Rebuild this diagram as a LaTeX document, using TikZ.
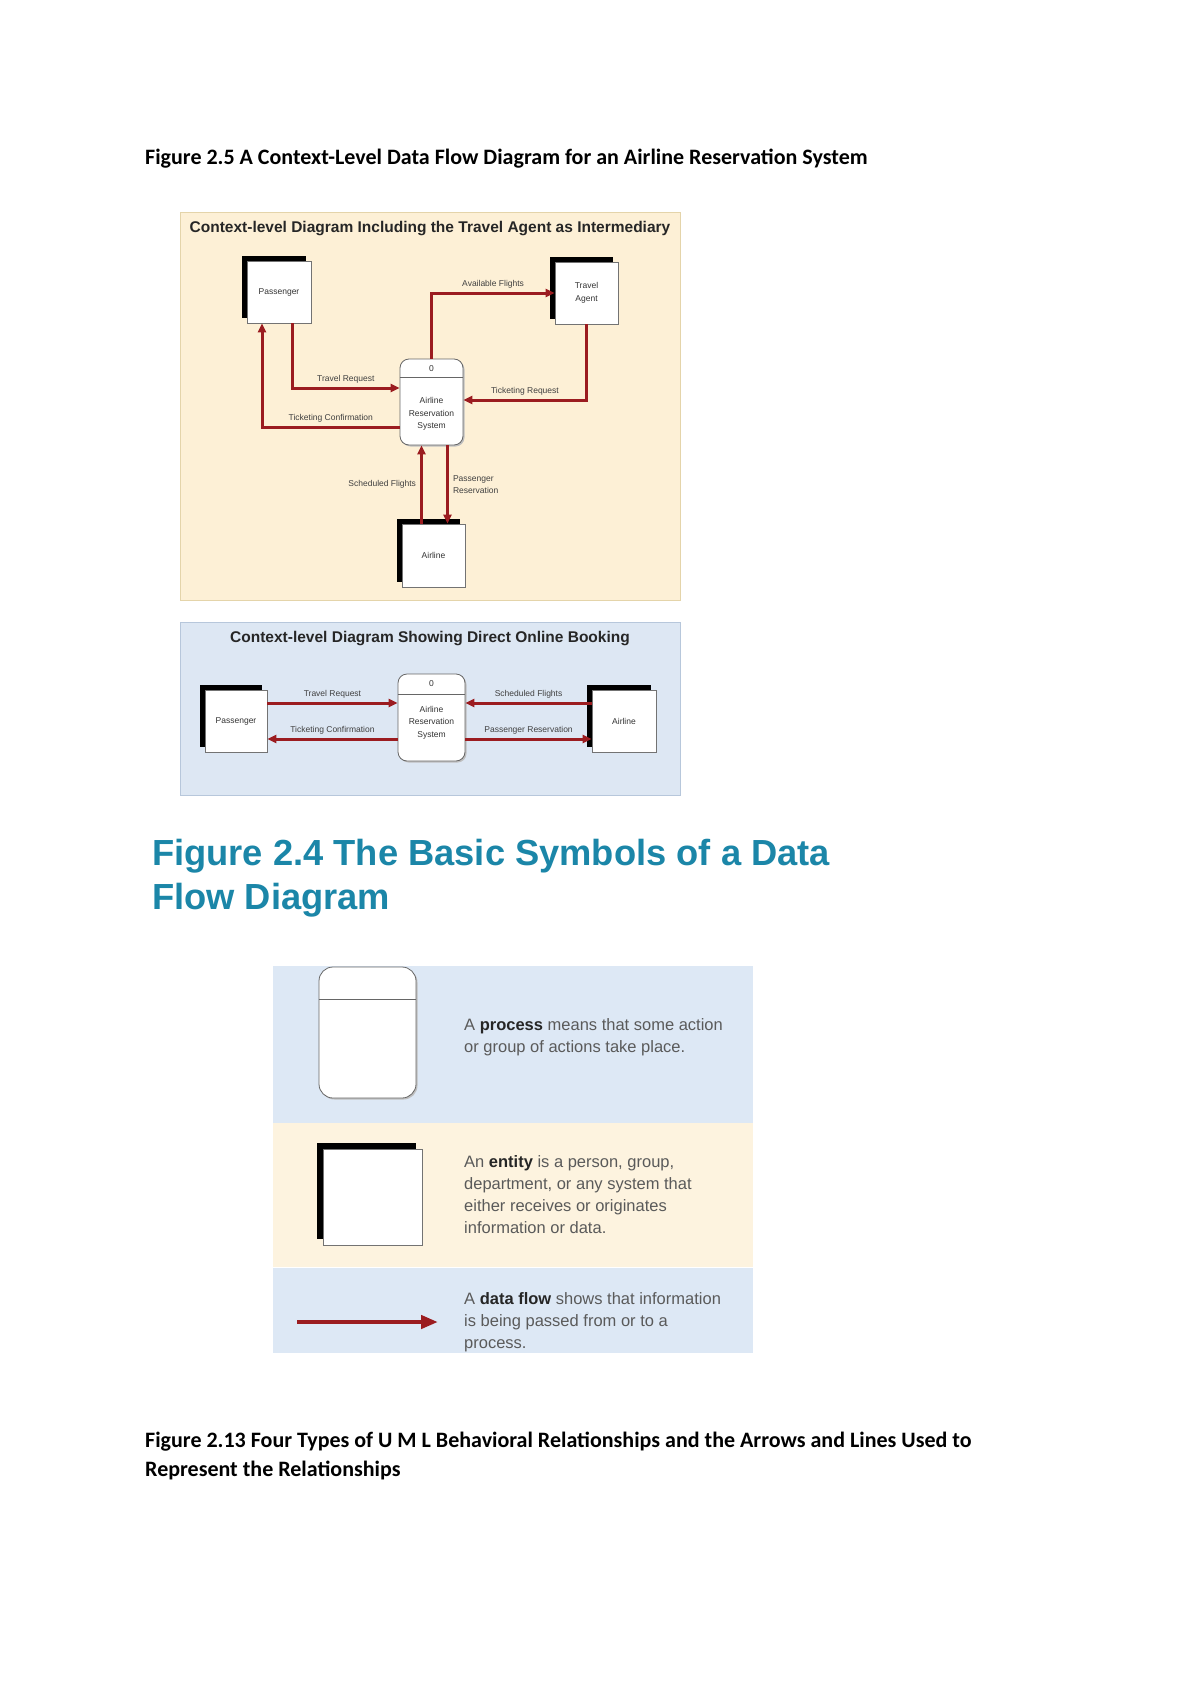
\documentclass[tikz,border=0pt]{standalone}
\usepackage{fontspec}
\setmainfont{Liberation Sans}
\newfontfamily\headfont{Carlito}
\usepackage{xcolor}
\usetikzlibrary{positioning, arrows.meta, shadows, calc}

\definecolor{flowred}{HTML}{9B1C20}
\definecolor{paneyellow}{HTML}{FDF0D6}
\definecolor{paneyellowrim}{HTML}{E4D4AA}
\definecolor{paneblue}{HTML}{DDE7F3}
\definecolor{panebluerim}{HTML}{B7C7DB}
\definecolor{bandblue}{HTML}{DDE8F5}
\definecolor{bandcream}{HTML}{FDF3DF}
\definecolor{headteal}{HTML}{1B86A8}
\definecolor{legendgray}{HTML}{5A5A5A}

\newcommand{\legkey}[1]{\textcolor{black!85}{\bfseries #1}}

\begin{document}
\begin{tikzpicture}[
    x=1pt, y=-1pt,
    every node/.style={font=\fontsize{8.5}{12.5}\selectfont, text=black!80},
    pane/.style={draw=#1rim, fill=#1, line width=1pt, minimum width=500pt, inner sep=0pt},
    panetitle/.style={font=\fontsize{15.5}{18}\selectfont\bfseries, text=black!85},
    entity/.style={draw=black!55, fill=white, align=center, inner sep=1pt, line width=0.6pt,
      general shadow={fill=black, shadow xshift=-#1, shadow yshift=#1}},
    entity/.default=5pt,
    process/.style={draw=black!60, fill=white, rounded corners=#1, align=center, line width=0.8pt,
      general shadow={fill=black!25, shadow xshift=1.5pt, shadow yshift=-1.5pt}},
    process/.default=9pt,
    divider/.style={draw=black!60, line width=0.8pt},
    flow/.style={-{Triangle[length=9pt, width=8pt]}, flowred, line width=3pt},
    bigflow/.style={-{Triangle[length=17pt, width=13pt]}, flowred, line width=4.5pt},
    lbl/.style={inner sep=1pt, text=black!75},
    heading/.style={font=\headfont\fontsize{22}{29}\selectfont\bfseries, text=black, align=left, anchor=west, inner sep=0pt},
    band/.style={fill=#1, minimum width=480pt, inner sep=0pt},
    legendtxt/.style={font=\fontsize{16.5}{21.8}\selectfont, text=legendgray, align=left, anchor=west, inner sep=0pt},
  ]

  \fill[white] (0,0) rectangle (1200,1696);

  % ---- Figure 2.5 ----
  \node[heading] (fig25) at (145,159) {Figure 2.5 A Context-Level Data Flow Diagram for an Airline Reservation System};

  % ---- Pane 1: travel agent as intermediary ----
  \node[pane=paneyellow, minimum height=387pt] (pane1) at (430,406.5) {};
  \node[panetitle] (pane1title) at ([yshift=-16pt]pane1.north) {Context-level Diagram Including the Travel Agent as Intermediary};

  \node[entity, minimum width=64pt, minimum height=62pt] (pass1) at (279,292) {Passenger};
  \node[entity, minimum width=63pt, minimum height=62pt] (agent1) at (586.5,293) {Travel\\Agent};
  \node[process, minimum width=63pt, minimum height=86pt, text height=55pt] (proc1) at (431.5,402) {Airline\\Reservation\\System};
  \node[anchor=north] (proc1num) at ([yshift=-3pt]proc1.north) {0};
  \draw[divider] ([yshift=-19pt]proc1.north west) -- ([yshift=-19pt]proc1.north east);
  \node[entity, minimum width=63pt, minimum height=63pt] (air1) at (433.5,555.5) {Airline};

  \draw[flow] ([xshift=13pt]pass1.south) |- ([yshift=14pt]proc1.west)
    node[lbl, pos=0.75, above=2pt] {Travel Request};
  \draw[flow] ([yshift=-25pt]proc1.west) -| ([xshift=-17pt]pass1.south)
    node[lbl, pos=0.25, above=2pt] {Ticketing Confirmation};
  \draw[flow] (proc1.north) |- (agent1.west)
    node[lbl, pos=0.75, above=2pt] {Available Flights};
  \draw[flow] (agent1.south) |- ([yshift=2pt]proc1.east)
    node[lbl, pos=0.75, above=2pt] {Ticketing Request};

  \coordinate (sched1) at ([xshift=-10pt]proc1.south);
  \coordinate (resv1) at ([xshift=16pt]proc1.south);
  \draw[flow] (sched1 |- air1.north) -- (sched1)
    node[lbl, midway, left=3pt] {Scheduled Flights};
  \draw[flow] (resv1) -- (resv1 |- air1.north)
    node[lbl, midway, right=3pt, align=left] {Passenger\\Reservation};

  % ---- Pane 2: direct online booking ----
  \node[pane=paneblue, minimum height=173pt] (pane2) at (430,708.5) {};
  \node[panetitle] (pane2title) at ([yshift=-17pt]pane2.north) {Context-level Diagram Showing Direct Online Booking};

  \node[entity, minimum width=62pt, minimum height=62pt] (pass2) at (236,721) {Passenger};
  \node[process, minimum width=67pt, minimum height=87pt, text height=41pt] (proc2) at (431.5,717.5) {Airline\\Reservation\\System};
  \node[anchor=north] (proc2num) at ([yshift=-3pt]proc2.north) {0};
  \draw[divider] ([yshift=-21pt]proc2.north west) -- ([yshift=-21pt]proc2.north east);
  \node[entity, minimum width=64pt, minimum height=62pt] (air2) at (624,721) {Airline};

  \draw[flow] ([yshift=18pt]pass2.east) -- ([yshift=14.5pt]proc2.west)
    node[lbl, midway, above=2pt] {Travel Request};
  \draw[flow] ([yshift=-21.5pt]proc2.west) -- ([yshift=-18pt]pass2.east)
    node[lbl, midway, above=2pt] {Ticketing Confirmation};
  \draw[flow] ([yshift=18pt]air2.west) -- ([yshift=14.5pt]proc2.east)
    node[lbl, midway, above=2pt] {Scheduled Flights};
  \draw[flow] ([yshift=-21.5pt]proc2.east) -- ([yshift=-18pt]air2.west)
    node[lbl, midway, above=2pt] {Passenger Reservation};

  % ---- Figure 2.4: basic symbols ----
  \node[heading, font=\fontsize{36.3}{44}\selectfont\bfseries, text=headteal] (fig24) at (152,878) {Figure 2.4 The Basic Symbols of a Data\\Flow Diagram};

  \node[band=bandblue, minimum height=157pt] (bandproc) at (513,1044.5) {};
  \node[band=bandcream, minimum height=144pt, below=0pt of bandproc] (bandent) {};
  \node[band=bandblue, minimum height=85pt, below=0pt of bandent] (bandflow) {};

  \node[process=14pt, minimum width=97pt, minimum height=131pt] (legproc) at (367.5,1032.5) {};
  \draw[divider] ([yshift=-33pt]legproc.north west) -- ([yshift=-33pt]legproc.north east);
  \node[legendtxt] (legproctxt) at (464,1037) {A \legkey{process} means that some action\\or group of actions take place.};

  \node[entity=6.5pt, minimum width=99pt, minimum height=96pt] (legent) at (372.5,1197) {};
  \node[legendtxt] (legenttxt) at (464,1194.5) {An \legkey{entity} is a person, group,\\department, or any system that\\either receives or originates\\information or data.};

  \coordinate (flowtail) at (297,1322);
  \coordinate (flowhead) at (438,1322);
  \draw[bigflow] (flowtail) -- (flowhead);
  \node[legendtxt] (legflowtxt) at (464,1322) {A \legkey{data flow} shows that information\\is being passed from or to a\\process.};

  % ---- Figure 2.13 ----
  \node[heading] (fig213) at (145,1455.5) {Figure 2.13 Four Types of U M L Behavioral Relationships and the Arrows and Lines Used to\\Represent the Relationships};

\end{tikzpicture}
\end{document}
